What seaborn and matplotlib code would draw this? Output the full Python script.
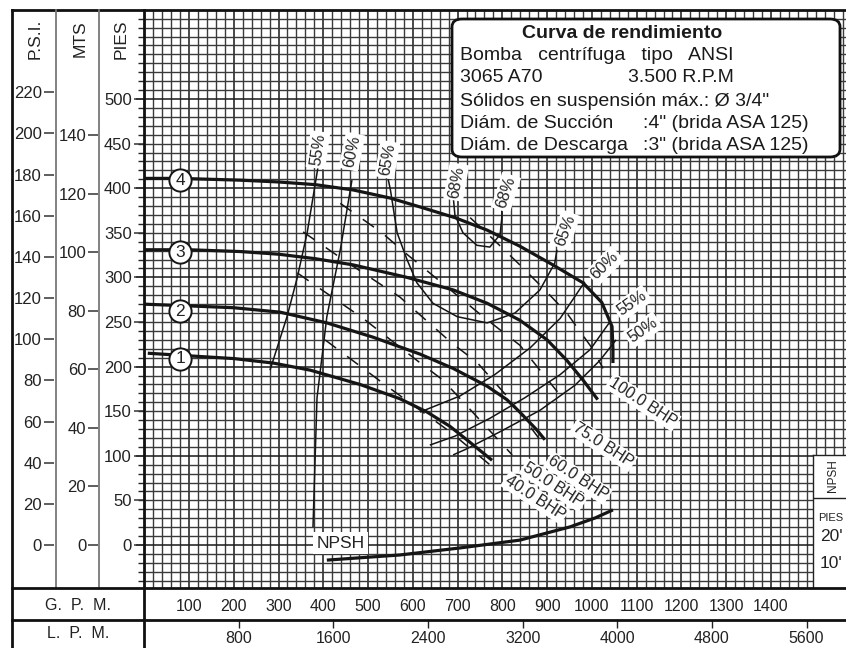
import matplotlib
matplotlib.use("Agg")
import matplotlib.pyplot as plt
import seaborn as sns
import pandas as pd
from matplotlib.patches import FancyBboxPatch
from matplotlib.lines import Line2D
from matplotlib.ticker import MultipleLocator

# ---------------- data (flow in US gpm, head in feet) ----------------
gpm_d4 = [0, 80, 214, 300, 382, 467, 549, 616, 694, 766, 839, 913, 980, 1022, 1045, 1047, 1047]
ft_d4 = [411, 411, 409, 407, 404, 398, 389, 379, 367, 353, 335, 314, 294, 272, 245, 220, 204]
gpm_d3 = [0, 100, 214, 300, 382, 467, 587, 690, 766, 839, 900, 944, 980, 1013]
ft_d3 = [331, 331, 329, 326, 321, 314, 300, 286, 271, 252, 230, 207, 185, 163]
gpm_d2 = [0, 103, 200, 304, 408, 511, 616, 690, 766, 810, 839, 877, 895]
ft_d2 = [270, 268, 266, 261, 249, 233, 214, 198, 178, 163, 149, 129, 118]
gpm_d1 = [8, 103, 200, 288, 371, 482, 571, 632, 683, 728, 777]
ft_d1 = [215, 212, 209, 204, 196, 180, 164, 149, 133, 115, 95]
impeller_ids = ["1", "2", "3", "4"]
impeller_label_ft = [209, 262, 328, 409]

# efficiency iso-lines
eff55_gpm = [388, 364, 342, 319, 281]
eff55_ft = [423, 350, 300, 256, 196]
eff60_gpm = [464, 438, 408, 386, 377]
eff60_ft = [409, 331, 256, 165, 20]
eff65_gpm = [545, 550, 565, 587, 609, 645, 699, 766, 828, 884, 917, 922]
eff65_ft = [410, 398, 350, 320, 294, 271, 256, 249, 260, 286, 316, 331]
eff68_gpm = [690, 694, 712, 743, 772, 795, 799, 799]
eff68_ft = [392, 370, 350, 336, 334, 348, 368, 383]
eff60r_gpm = [984, 929, 862, 783, 705, 616]
eff60r_ft = [295, 254, 221, 191, 167, 149]
eff55r_gpm = [1040, 996, 929, 850, 772, 694, 638]
eff55r_ft = [250, 219, 191, 165, 142, 122, 112]
eff50r_gpm = [1054, 1018, 962, 884, 795, 717, 690]
eff50r_ft = [230, 207, 179, 151, 127, 107, 101]

# brake horsepower lines
bhp100_gpm = [728, 777, 835, 895, 944, 1000, 1025]
bhp100_ft = [367, 344, 316, 286, 260, 221, 198]
bhp75_gpm = [438, 531, 589, 650, 757, 839, 929]
bhp75_ft = [383, 350, 325, 300, 256, 224, 168]
bhp60_gpm = [355, 453, 571, 688, 743, 817, 884]
bhp60_ft = [351, 317, 278, 226, 205, 163, 118]
bhp50_gpm = [342, 489, 609, 667, 822]
bhp50_ft = [305, 254, 207, 185, 101]
bhp40_gpm = [404, 545, 683, 772]
bhp40_ft = [230, 177, 127, 90]

# NPSH required (feet)
npsh_gpm = [408, 571, 705, 839, 951, 1007, 1047]
npsh_ft = [10.7, 12.6, 15.2, 18.1, 23.0, 26.3, 29.3]

# axis scales
gpm_ticks = [100, 200, 300, 400, 500, 600, 700, 800, 900, 1000, 1100, 1200, 1300, 1400]
lpm_ticks = [800, 1600, 2400, 3200, 4000, 4800, 5600]
psi_ticks = list(range(0, 221, 20))
mts_ticks = list(range(0, 141, 20))
pies_ticks = list(range(0, 501, 50))
npsh_ticks = [10, 20]

eff_labels = ["55%", "60%", "65%", "68%", "68%", "65%", "60%", "55%", "50%"]
eff_label_gpm = [388, 464, 543, 697, 808, 940, 1029, 1090, 1114]
eff_label_ft = [443, 441, 432, 407, 395, 353, 313, 271, 241]
eff_label_rot = [82, 78, 80, 80, 72, 70, 45, 35, 35]
bhp_labels = ["100.0 BHP", "75.0 BHP", "60.0 BHP", "50.0 BHP", "40.0 BHP"]
bhp_label_gpm = [1114, 1025, 969, 914, 873]
bhp_label_ft = [160, 112, 75, 67, 53]

# ---------------- figure ----------------
sns.set_theme(style="white")
plt.rcParams['font.family'] = ['Liberation Sans', 'DejaVu Sans']
W, H = 846, 648
fig = plt.figure(figsize=(W / 100, H / 100), dpi=100)
fig.patch.set_facecolor("white")


def fx(px):
    return px / W


def fy(py):
    return 1 - py / H


GX0, GX1, GY0, GY1 = 144.2, 846, 10, 588
PX_PER_GPM = 0.4477
PX_PER_FT = 0.892
FT0_Y = 545
x_lim = (0, (GX1 - GX0) / PX_PER_GPM)
y_lim = ((FT0_Y - GY1) / PX_PER_FT, (FT0_Y - GY0) / PX_PER_FT)

ax = fig.add_axes([fx(GX0), fy(GY1), fx(GX1) - fx(GX0), fy(GY0) - fy(GY1)])
ax.set_xlim(*x_lim)
ax.set_ylim(*y_lim)
ax.set_facecolor("white")
for s in ax.spines.values():
    s.set_visible(False)

# graph-paper grid
ax.xaxis.set_minor_locator(MultipleLocator(20))
ax.yaxis.set_minor_locator(MultipleLocator(10))
ax.yaxis.set_major_locator(MultipleLocator(100))
ax.set_xticks(gpm_ticks)
ax.set_xticklabels([str(t) for t in gpm_ticks])
ax.grid(which="minor", color="#3a3a3a", lw=1.0)
ax.grid(which="major", color="#202020", lw=1.15)
ax.set_axisbelow(True)
ax.tick_params(axis="y", which="both", left=False, labelleft=False)
ax.tick_params(axis="x", which="minor", length=0)
ax.tick_params(axis="x", which="major", direction="out", length=6, width=1.0,
               color="#222222", labelsize=11.5, pad=2, labelcolor="#222222")
ax.set_xlabel("")
ax.set_ylabel("")

# L.P.M. scale below the G.P.M. scale
lpm = ax.secondary_xaxis(-(620 - GY1) / (GY1 - GY0),
                         functions=(lambda g: g * 3.785, lambda l: l / 3.785))
lpm.set_xticks(lpm_ticks)
lpm.set_xticklabels([str(t) for t in lpm_ticks])
lpm.tick_params(axis="x", direction="out", length=6, width=1.0, color="#222222",
                labelsize=11.5, pad=2, labelcolor="#222222")
lpm.spines["bottom"].set_visible(False)


def curve(xs, ys, lw, dashes=None, target=ax):
    df = pd.DataFrame({"q": xs, "h": ys})
    line_ax = sns.lineplot(data=df, x="q", y="h", ax=target, color="#151515", lw=lw,
                           sort=False, estimator=None)
    line = line_ax.get_lines()[-1]
    line.set_solid_capstyle("butt")
    line.set_solid_joinstyle("round")
    if dashes is not None:
        line.set_dashes(dashes)
    target.set_xlabel("")
    target.set_ylabel("")


# efficiency lines
for xs, ys in [(eff55_gpm, eff55_ft), (eff60_gpm, eff60_ft), (eff65_gpm, eff65_ft),
               (eff68_gpm, eff68_ft), (eff60r_gpm, eff60r_ft), (eff55r_gpm, eff55r_ft),
               (eff50r_gpm, eff50r_ft)]:
    curve(xs, ys, 1.1)

# BHP lines (dashed)
for xs, ys in [(bhp100_gpm, bhp100_ft), (bhp75_gpm, bhp75_ft), (bhp60_gpm, bhp60_ft),
               (bhp50_gpm, bhp50_ft), (bhp40_gpm, bhp40_ft)]:
    curve(xs, ys, 1.1, dashes=(9, 9))

# head curves
for xs, ys in [(gpm_d1, ft_d1), (gpm_d2, ft_d2), (gpm_d3, ft_d3), (gpm_d4, ft_d4)]:
    curve(xs, ys, 2.3)

# impeller markers
ax.plot([80] * 4, impeller_label_ft, ls="none", marker="o", ms=16, mfc="white",
        mec="#151515", mew=1.4, zorder=5)
for lab, yv in zip(impeller_ids, impeller_label_ft):
    ax.text(80, yv, lab, ha="center", va="center", fontsize=12.5, color="#222222", zorder=6)

# efficiency labels
for lab, xv, yv, rot in zip(eff_labels, eff_label_gpm, eff_label_ft, eff_label_rot):
    ax.text(xv, yv, lab, rotation=rot, rotation_mode="anchor", ha="center", va="center",
            fontsize=11.5, color="#222222", zorder=7,
            bbox=dict(boxstyle="square,pad=0.15", fc="white", ec="none"))

# BHP labels
for lab, xv, yv in zip(bhp_labels, bhp_label_gpm, bhp_label_ft):
    ax.text(xv, yv, lab, rotation=-33, rotation_mode="anchor", ha="center", va="center",
            fontsize=11.5, color="#222222", zorder=7,
            bbox=dict(boxstyle="square,pad=0.1", fc="white", ec="none"))

# NPSH curve on its own scale
ax_n = ax.twinx()
NPSH0_Y, PX_PER_NPSH = 589, 2.7
ax_n.set_ylim((NPSH0_Y - GY1) / PX_PER_NPSH, (NPSH0_Y - GY0) / PX_PER_NPSH)
curve(npsh_gpm, npsh_ft, 2.3, target=ax_n)
ax_n.set_yticks([])
for s in ax_n.spines.values():
    s.set_visible(False)
ax_n.grid(False)
ax.text(438, 2.2, "NPSH", ha="center", va="center", fontsize=12.5, color="#222222", zorder=7,
        bbox=dict(boxstyle="square,pad=0.2", fc="white", ec="none"))

# NPSH scale box at the right
BX0, BY0 = 813, 455
ax_b = fig.add_axes([fx(BX0), fy(GY1), fx(W) - fx(BX0), fy(BY0) - fy(GY1)])
ax_b.set_facecolor("white")
ax_b.set_xlim(0, 1)
ax_b.set_ylim((NPSH0_Y - GY1) / PX_PER_NPSH, (NPSH0_Y - BY0) / PX_PER_NPSH)
ax_b.set_xticks([])
ax_b.set_yticks(npsh_ticks)
ax_b.set_yticklabels([f"{t}'" for t in npsh_ticks])
ax_b.tick_params(axis="y", direction="in", length=4, width=1.0, color="#222222",
                 pad=-5, labelsize=12.5, labelcolor="#222222")
for lb in ax_b.get_yticklabels():
    lb.set_ha("left")
for k, s in ax_b.spines.items():
    s.set_visible(k in ("left", "top"))
    s.set_color("#222222")
    s.set_linewidth(1.0)
ax_b.axhline((NPSH0_Y - 498) / PX_PER_NPSH, color="#222222", lw=1.0)
ax_b.text(0.6, (NPSH0_Y - 476) / PX_PER_NPSH, "NPSH", rotation=90, ha="center",
          va="center", fontsize=8.5, color="#222222")
ax_b.text(0.15, (NPSH0_Y - 518) / PX_PER_NPSH, "PIES", ha="left", va="center",
          fontsize=8, color="#222222")


# left pressure / head scales
def scale_column(x_right, x_left, factor, ticks, header, hx):
    cax = fig.add_axes([fx(x_left), fy(GY1), fx(x_right) - fx(x_left), fy(GY0) - fy(GY1)])
    cax.set_facecolor("none")
    cax.set_xlim(0, 1)
    cax.set_ylim(y_lim[0] / factor, y_lim[1] / factor)
    cax.set_xticks([])
    cax.yaxis.tick_right()
    cax.set_yticks(ticks)
    cax.set_yticklabels([str(t) for t in ticks])
    cax.tick_params(axis="y", direction="in", length=7.5, width=1.1, color="#333333",
                    pad=-8.5, labelsize=12, labelcolor="#222222")
    for lb in cax.get_yticklabels():
        lb.set_ha("right")
    for s in cax.spines.values():
        s.set_visible(False)
    fig.text(fx(hx), fy(39), header, rotation=90, ha="center", va="center",
             fontsize=12.5, color="#222222")


scale_column(53.5, 14, 2.307, psi_ticks, "P.S.I.", 35)
scale_column(98, 57, 3.2808, mts_ticks, "MTS", 80)
scale_column(143.5, 100, 1.0, pies_ticks, "PIES", 121)


def fline(x0, y0, x1, y1, lw, color="#111111"):
    fig.add_artist(Line2D([fx(x0), fx(x1)], [fy(y0), fy(y1)], lw=lw, color=color,
                          solid_capstyle="projecting"))


# frame
fline(12, 10, 12, 648, 2.0)
fline(12, 10, 846, 10, 2.0)
fline(144, 10, 144, 648, 2.0)
fline(56, 10, 56, GY1, 1.3, "#777777")
fline(99, 10, 99, GY1, 1.3, "#777777")
fline(12, GY1, 846, GY1, 2.0)
fline(12, 620, 846, 620, 2.0)
fig.text(fx(78), fy(605), "G.  P.  M.", ha="center", va="center", fontsize=11.5, color="#222222")
fig.text(fx(78), fy(634), "L.  P.  M.", ha="center", va="center", fontsize=11.5, color="#222222")

# specification box
box = FancyBboxPatch((fx(452), fy(157)), fx(840) - fx(452), fy(19) - fy(157),
                     boxstyle="round,pad=0,rounding_size=0.012", transform=fig.transFigure,
                     fc="white", ec="#111111", lw=2.0, zorder=10)
fig.add_artist(box)
spec = [
    (622, 33, "Curva de rendimiento", "center", "bold"),
    (460, 56, "Bomba   centrífuga   tipo   ANSI", "left", "normal"),
    (460, 78, "3065 A70", "left", "normal"),
    (628, 78, "3.500 R.P.M", "left", "normal"),
    (460, 101, "Sólidos en suspensión máx.: Ø 3/4\"", "left", "normal"),
    (460, 123, "Diám. de Succión", "left", "normal"),
    (643, 123, ":4\" (brida ASA 125)", "left", "normal"),
    (460, 145, "Diám. de Descarga", "left", "normal"),
    (643, 145, ":3\" (brida ASA 125)", "left", "normal"),
]
for px, py, txt, ha, wt in spec:
    fig.text(fx(px), fy(py), txt, ha=ha, va="center", fontsize=14, fontweight=wt,
             color="#1a1a1a", zorder=11)

fig.savefig("out.png", dpi=100)
